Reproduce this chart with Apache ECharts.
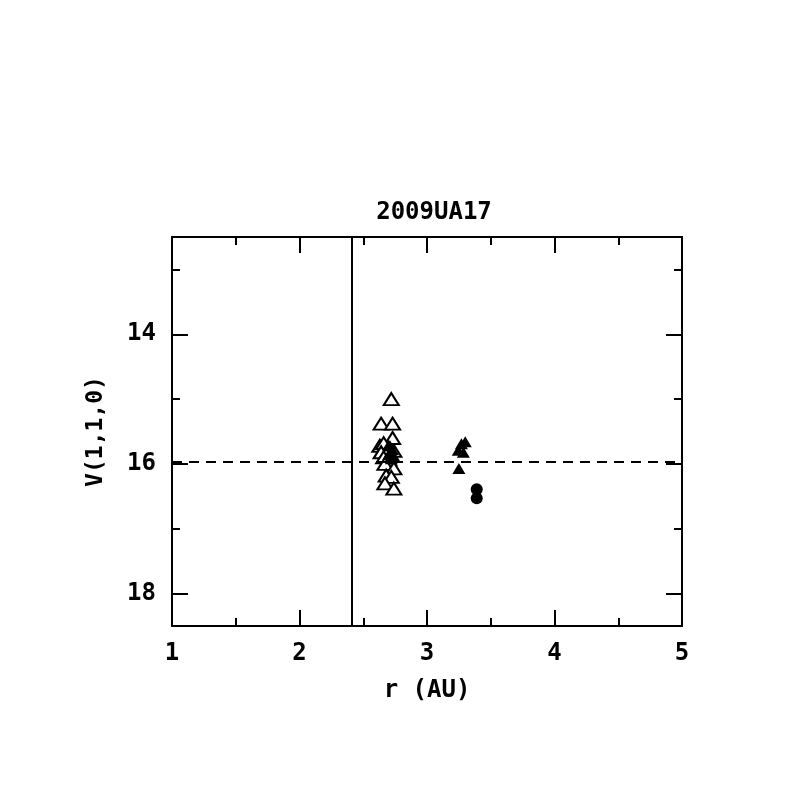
<!DOCTYPE html>
<html>
<head>
<meta charset="utf-8">
<script src="https://cdn.jsdelivr.net/npm/echarts@6/dist/echarts.min.js"></script>
<style>html,body{margin:0;padding:0;background:#fff}#c{width:797px;height:797px}</style>
</head>
<body>
<div id="c"></div>
<script>
var titleText = '2009UA17';
var xName = 'r (AU)';
var yName = 'V(1,1,0)';
var yMajorTicks = [14, 16, 18];
var yMinorTicks = [13, 15, 17];
var openR = [2.72, 2.64, 2.73, 2.73, 2.63, 2.66, 2.70, 2.64, 2.68, 2.74, 2.66, 2.70, 2.67, 2.74, 2.68, 2.72, 2.67, 2.74];
var openV = [15.00, 15.38, 15.38, 15.60, 15.72, 15.68, 15.75, 15.82, 15.85, 15.80, 15.90, 15.93, 16.00, 16.07, 16.18, 16.20, 16.30, 16.38];
var filledR = [2.71, 2.73, 2.70, 2.74, 2.72, 3.27, 3.30, 3.245, 3.285, 3.25];
var filledV = [15.72, 15.78, 15.85, 15.88, 15.92, 15.69, 15.66, 15.79, 15.82, 16.07];
var circleR = [3.39, 3.39];
var circleV = [16.39, 16.53];
var vLineR = 2.41;
var hLineV = 15.97;

function pairs(a, b) { return a.map(function (v, i) { return [v, b[i]]; }); }

var FONT = 'DejaVu Sans Mono';
var black = '#000';
var chart = echarts.init(document.getElementById('c'));

function xAx(pos, showLabel) {
  return {
    type: 'value', position: pos, min: 1, max: 5, interval: 1,
    axisLine: { show: true, onZero: false, lineStyle: { color: black, width: 2 } },
    axisTick: { show: true, inside: true, length: 16, lineStyle: { color: black, width: 2 } },
    minorTick: { show: true, splitNumber: 2, length: 8, lineStyle: { color: black, width: 2 } },
    splitLine: { show: false }, minorSplitLine: { show: false },
    axisLabel: { show: showLabel, margin: 16, fontSize: 24, fontFamily: FONT, fontWeight: 'bold', color: black, showMinLabel: true, showMaxLabel: true },
    name: showLabel ? xName : '', nameLocation: 'middle', nameGap: 53,
    nameTextStyle: { fontSize: 24, fontFamily: FONT, fontWeight: 'bold', color: black }
  };
}
function yAx(pos, ticks, len, showLabel, showLine) {
  return {
    type: 'value', position: pos, min: 12.5, max: 18.5, inverse: true,
    axisLine: { show: showLine, onZero: false, lineStyle: { color: black, width: 2 } },
    axisTick: { show: true, inside: true, length: len, customValues: ticks, lineStyle: { color: black, width: 2 } },
    splitLine: { show: false },
    axisLabel: { show: showLabel, customValues: ticks, margin: 16, fontSize: 24, fontFamily: FONT, fontWeight: 'bold', color: black },
    name: showLabel ? yName : '', nameLocation: 'middle', nameGap: 64, nameRotate: 90,
    nameTextStyle: { fontSize: 23, fontFamily: FONT, fontWeight: 'bold', color: black }
  };
}

chart.setOption({
  animation: false,
  backgroundColor: '#fff',
  title: {
    text: titleText, left: 429, top: 196, textAlign: 'center',
    textStyle: { fontSize: 24, fontFamily: FONT, fontWeight: 'bold', color: black }
  },
  grid: { left: 172, right: 115, top: 237, bottom: 171, containLabel: false },
  xAxis: [xAx('bottom', true), xAx('top', false)],
  yAxis: [
    yAx('left', yMajorTicks, 16, true, true),
    yAx('left', yMinorTicks, 8, false, false),
    yAx('right', yMajorTicks, 16, false, true),
    yAx('right', yMinorTicks, 8, false, false)
  ],
  series: [
    {
      type: 'scatter', data: pairs(openR, openV), symbol: 'triangle', symbolSize: [15, 12],
      itemStyle: { color: '#fff', borderColor: black, borderWidth: 2, opacity: 1 }, z: 3,
      markLine: {
        silent: true, symbol: 'none', label: { show: false }, animation: false,
        data: [
          { xAxis: vLineR, lineStyle: { color: black, width: 2, type: 'solid', opacity: 1 } },
          { yAxis: hLineV, lineStyle: { color: black, width: 2, type: [10, 7], opacity: 1 } }
        ]
      }
    },
    {
      type: 'scatter', data: pairs(filledR, filledV), symbol: 'triangle', symbolSize: [13, 11],
      itemStyle: { color: black, opacity: 1 }, z: 4
    },
    {
      type: 'scatter', data: pairs(circleR, circleV), symbol: 'circle', symbolSize: 12,
      itemStyle: { color: black, opacity: 1 }, z: 4
    }
  ]
});
</script>
</body>
</html>
